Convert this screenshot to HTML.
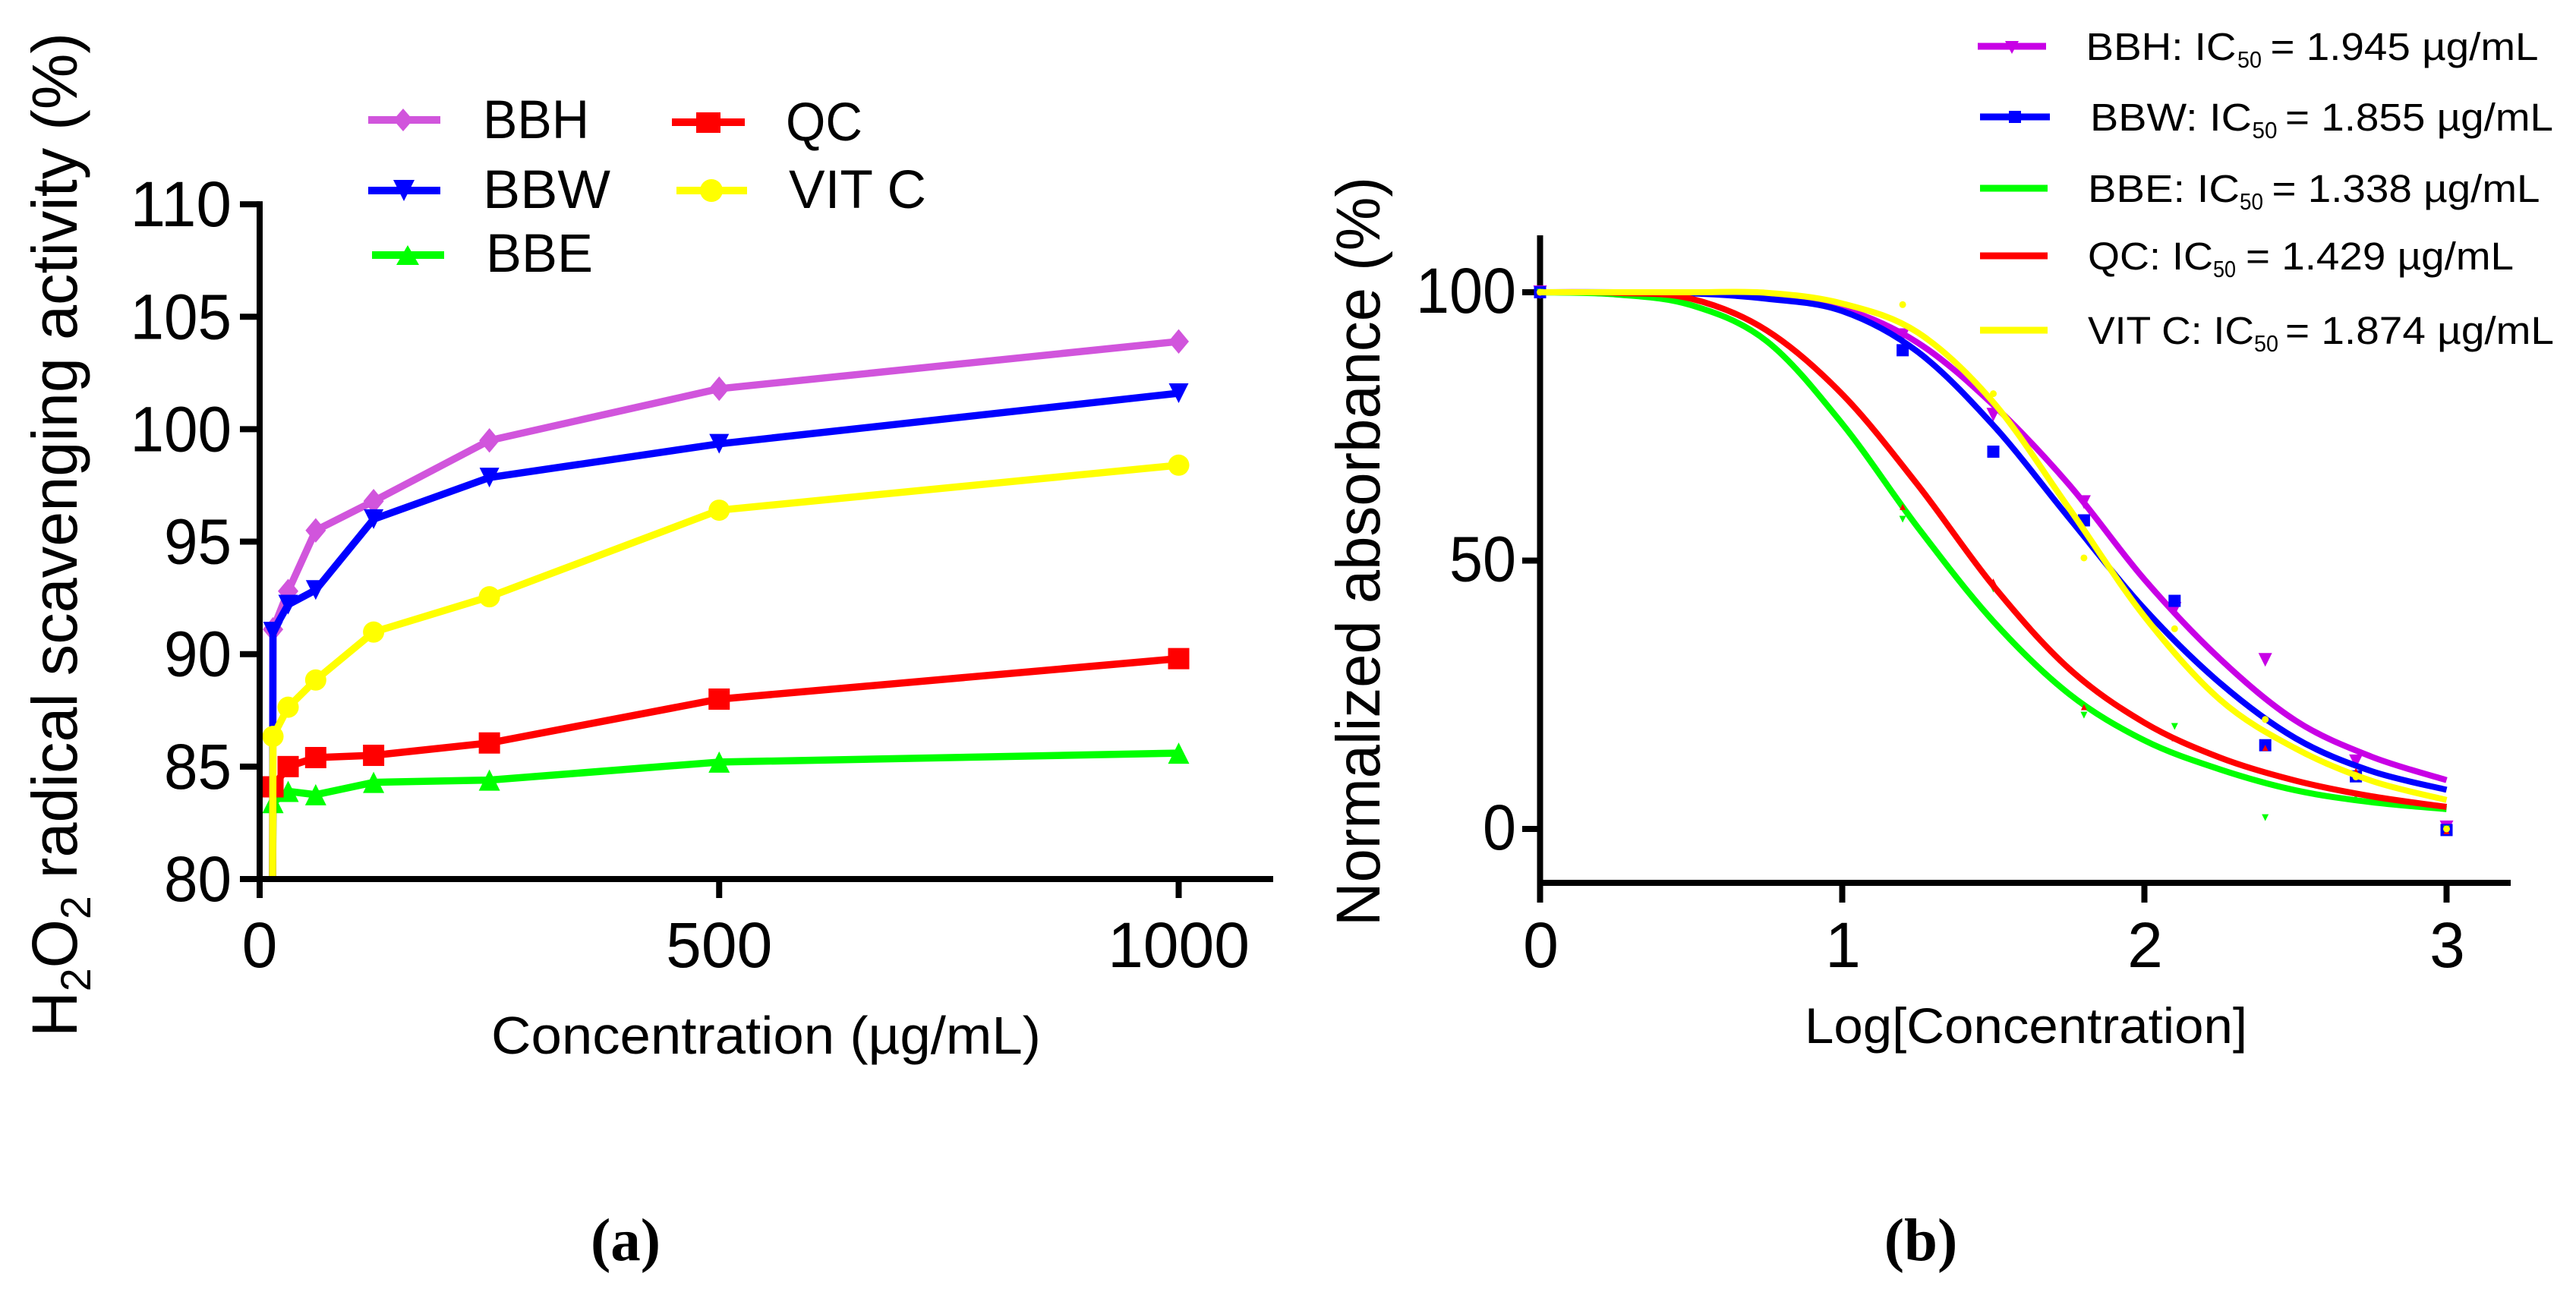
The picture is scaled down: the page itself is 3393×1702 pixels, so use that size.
<!DOCTYPE html>
<html lang="en">
<head>
<meta charset="utf-8">
<title>H2O2 radical scavenging activity and IC50 curves</title>
<style>
html,body{margin:0;padding:0;background:#fff;width:3393px;height:1702px;overflow:hidden;}
svg{display:block;}
text{font-family:"Liberation Sans",Arial,sans-serif;fill:#000;}
.serif{font-family:"Liberation Serif",serif;font-weight:bold;}
</style>
</head>
<body>
<svg id="fig" xmlns="http://www.w3.org/2000/svg" width="3393" height="1702" viewBox="0 0 3393 1702">
  <rect x="0" y="0" width="3393" height="1702" fill="#fff"/>
  <defs>
    <clipPath id="clipA"><rect x="342" y="100" width="1340" height="1061"/></clipPath>
  </defs>
  <g id="panelA"></g>
  <g id="panelB"></g>

  <!-- panel a titles -->
  <text transform="translate(101,1366) rotate(-90)" font-size="84" textLength="1323" lengthAdjust="spacingAndGlyphs">H<tspan font-size="56" dy="18">2</tspan><tspan dy="-18">O</tspan><tspan font-size="56" dy="18">2</tspan><tspan dy="-18"> radical scavenging activity (%)</tspan></text>
  <text x="647" y="1388" font-size="70" textLength="724" lengthAdjust="spacingAndGlyphs">Concentration (µg/mL)</text>
  <text class="serif" x="824" y="1660" font-size="79" text-anchor="middle">(a)</text>

  <!-- panel a legend -->
  <g>
    <g>
      <line x1="485" x2="580" y1="158" y2="158" stroke="#d155dc" stroke-width="10"/>
      <polygon points="531,143 544,158 531,173 518,158" fill="#d155dc"/>
      <text x="636" y="182" font-size="71" textLength="140" lengthAdjust="spacingAndGlyphs">BBH</text>
    </g>
    <g>
      <line x1="485" x2="580" y1="251" y2="251" stroke="#0000ff" stroke-width="10"/>
      <polygon points="518,237 546,237 532,265" fill="#0000ff"/>
      <text x="636" y="274" font-size="71" textLength="168" lengthAdjust="spacingAndGlyphs">BBW</text>
    </g>
    <g>
      <line x1="490" x2="585" y1="336" y2="336" stroke="#00ff00" stroke-width="10"/>
      <polygon points="537,323 552,349 522,349" fill="#00ff00"/>
      <text x="640" y="358" font-size="71" textLength="141" lengthAdjust="spacingAndGlyphs">BBE</text>
    </g>
    <g>
      <line x1="885" x2="981" y1="161" y2="161" stroke="#ff0000" stroke-width="10"/>
      <rect x="917" y="148" width="32" height="27" fill="#ff0000"/>
      <text x="1035" y="185" font-size="71" textLength="101" lengthAdjust="spacingAndGlyphs">QC</text>
    </g>
    <g>
      <line x1="891" x2="984" y1="251" y2="251" stroke="#ffff00" stroke-width="10"/>
      <circle cx="937" cy="251" r="15" fill="#ffff00"/>
      <text x="1039" y="274" font-size="71" textLength="181" lengthAdjust="spacingAndGlyphs">VIT C</text>
    </g>
  </g>

  <!-- panel b titles -->
  <text transform="translate(1817,1220) rotate(-90)" font-size="82" textLength="987" lengthAdjust="spacingAndGlyphs">Normalized absorbance (%)</text>
  <text x="2377" y="1374" font-size="66" textLength="583" lengthAdjust="spacingAndGlyphs">Log[Concentration]</text>
  <text class="serif" x="2530" y="1660" font-size="79" text-anchor="middle">(b)</text>

  <!-- panel b legend -->
  <g font-size="51">
    <g>
      <line x1="2605" x2="2695" y1="61" y2="61" stroke="#c800e6" stroke-width="9"/>
      <polygon points="2641,54 2659,54 2650,71" fill="#c800e6"/>
      <text x="2747.5" y="79" textLength="198" lengthAdjust="spacingAndGlyphs">BBH: IC</text>
      <text x="2947" y="89" font-size="31" textLength="32" lengthAdjust="spacingAndGlyphs">50</text>
      <text x="2990.5" y="79" textLength="353" lengthAdjust="spacingAndGlyphs">= 1.945 µg/mL</text>
    </g>
    <g>
      <line x1="2608" x2="2700" y1="154" y2="154" stroke="#0000ff" stroke-width="9"/>
      <rect x="2646" y="146" width="16" height="16" fill="#0000ff"/>
      <text x="2753" y="172" textLength="213" lengthAdjust="spacingAndGlyphs">BBW: IC</text>
      <text x="2966.5" y="182" font-size="31" textLength="33" lengthAdjust="spacingAndGlyphs">50</text>
      <text x="3010" y="172" textLength="353" lengthAdjust="spacingAndGlyphs">= 1.855 µg/mL</text>
    </g>
    <g>
      <line x1="2608" x2="2697" y1="248" y2="248" stroke="#00ff00" stroke-width="9"/>
      <text x="2750" y="266" textLength="200" lengthAdjust="spacingAndGlyphs">BBE: IC</text>
      <text x="2950" y="276" font-size="31" textLength="31" lengthAdjust="spacingAndGlyphs">50</text>
      <text x="2992.5" y="266" textLength="353" lengthAdjust="spacingAndGlyphs">= 1.338 µg/mL</text>
    </g>
    <g>
      <line x1="2608" x2="2697" y1="337" y2="337" stroke="#ff0000" stroke-width="9"/>
      <text x="2750" y="355" textLength="165" lengthAdjust="spacingAndGlyphs">QC: IC</text>
      <text x="2915" y="365" font-size="31" textLength="30" lengthAdjust="spacingAndGlyphs">50</text>
      <text x="2958" y="355" textLength="353" lengthAdjust="spacingAndGlyphs">= 1.429 µg/mL</text>
    </g>
    <g>
      <line x1="2608" x2="2697" y1="435" y2="435" stroke="#ffff00" stroke-width="9"/>
      <text x="2750" y="453" textLength="219" lengthAdjust="spacingAndGlyphs">VIT C: IC</text>
      <text x="2969" y="463" font-size="31" textLength="32" lengthAdjust="spacingAndGlyphs">50</text>
      <text x="3010" y="453" textLength="354" lengthAdjust="spacingAndGlyphs">= 1.874 µg/mL</text>
    </g>
  </g>
</svg>

<script>
// ---------- Panel (a) data ----------
const concentrations = [14, 14.5, 31, 61, 124, 250, 500, 1000];
const bbhActivity  = [79, 91.1, 92.8, 95.5, 96.8, 99.5, 101.8, 103.9];
const bbwActivity  = [79, 91.0, 92.2, 92.85, 96.0, 97.85, 99.35, 101.6];
const bbeActivity  = [79, 83.4, 83.9, 83.75, 84.3, 84.4, 85.2, 85.6];
const qcActivity   = [79, 84.1, 85.0, 85.4, 85.5, 86.05, 88.0, 89.8];
const vitcActivity = [79, 86.34, 87.64, 88.85, 90.98, 92.55, 96.4, 98.4];
const panelAYTicks = [80, 85, 90, 95, 100, 105, 110];
const panelAXTicks = [0, 500, 1000];

// ---------- Panel (b) data ----------
const curveLogX = [0, 0.25, 0.5, 0.75, 1, 1.25, 1.5, 1.75, 2, 2.25, 2.5, 2.75, 3];
const bbhCurve  = [100, 100, 99.9, 99.2, 97, 90.6, 79, 64.2, 46.5, 31.7, 20.2, 13.5, 9.1];
const bbwCurve  = [100, 100, 99.8, 98.8, 96.5, 88.9, 75.2, 58, 41, 27.2, 16.9, 10.8, 7.3];
const bbeCurve  = [100, 99.6, 97.6, 90.9, 75.5, 56.2, 38.7, 25.2, 16.5, 11.1, 7.2, 5, 3.7];
const qcCurve   = [100, 99.9, 98.8, 92.9, 81, 64.1, 45.3, 29.9, 19.8, 13.3, 9, 6.1, 4.1];
const vitcCurve = [100, 100, 100, 99.9, 97.9, 92.5, 79.5, 59.8, 39.6, 24.1, 15, 9, 5.4];

const pointLogX = [0, 1.2, 1.5, 1.8, 2.1, 2.4, 2.7, 3];
const bbhPoints  = [100, 92, 77.2, 60.9, 41, 31.5, 12.6, 0.3];
const bbwPoints  = [100, 89.2, 70.3, 57.5, 42.5, 15.6, 9.8, -0.2];
const bbePoints  = [100, 57.7, 44.7, 21.2, 19.1, 2.1, 6.1, 0];
const qcPoints   = [100, 60, 46.1, 22.7, 16.9, 15.1, 10.8, -0.4];
const vitcPoints = [100, 97.7, 81.1, 50.5, 37.3, 20.4, 9.7, 0];
const panelBYTicks = [0, 50, 100];
const panelBXTicks = [0, 1, 2, 3];

// ---------- Axis functions ----------
const xA = v => 342 + v * 1.2105;
const yA = v => 1158 - (v - 80) * 29.63;
const xB = v => 2028.5 + v * 398;
const yB = v => 1092 - v * 7.07;

const NS = 'http://www.w3.org/2000/svg';
function mk(parent, tag, attrs, txt) {
  const n = document.createElementNS(NS, tag);
  for (const k in attrs) n.setAttribute(k, attrs[k]);
  if (txt !== undefined) n.textContent = txt;
  parent.appendChild(n);
  return n;
}
function shapeFor(parent, kind, cx, cy, s, color) {
  const h = s / 2;
  if (kind === 'square') return mk(parent, 'rect', {x: cx - h, y: cy - h, width: s, height: s, fill: color});
  if (kind === 'circle') return mk(parent, 'circle', {cx: cx, cy: cy, r: h, fill: color});
  let pts;
  if (kind === 'diamond') pts = [[cx, cy - h * 1.2], [cx + h, cy], [cx, cy + h * 1.2], [cx - h, cy]];
  if (kind === 'down') pts = [[cx - h, cy - h], [cx + h, cy - h], [cx, cy + h]];
  if (kind === 'up') pts = [[cx, cy - h], [cx + h, cy + h], [cx - h, cy + h]];
  return mk(parent, 'polygon', {points: pts.map(p => p.join(',')).join(' '), fill: color});
}
function smoothPath(pts) {
  let d = 'M' + pts[0][0] + ',' + pts[0][1];
  for (let i = 0; i < pts.length - 1; i++) {
    const p0 = pts[Math.max(i - 1, 0)], p1 = pts[i], p2 = pts[i + 1], p3 = pts[Math.min(i + 2, pts.length - 1)];
    const c1 = [p1[0] + (p2[0] - p0[0]) / 6, p1[1] + (p2[1] - p0[1]) / 6];
    const c2 = [p2[0] - (p3[0] - p1[0]) / 6, p2[1] - (p3[1] - p1[1]) / 6];
    d += 'C' + c1.join(',') + ' ' + c2.join(',') + ' ' + p2.join(',');
  }
  return d;
}

// ---------- Panel (a) ----------
const gA = document.getElementById('panelA');
const seriesA = [
  {name: 'bbh', vals: bbhActivity, color: '#d155dc', marker: 'diamond', size: 27},
  {name: 'bbe', vals: bbeActivity, color: '#00ff00', marker: 'up', size: 28},
  {name: 'qc', vals: qcActivity, color: '#ff0000', marker: 'square', size: 28},
  {name: 'bbw', vals: bbwActivity, color: '#0000ff', marker: 'down', size: 26},
  {name: 'vit-c', vals: vitcActivity, color: '#ffff00', marker: 'circle', size: 28}
];
seriesA.forEach(s => {
  const line = mk(gA, 'polyline', {
    points: s.vals.map((v, i) => xA(concentrations[i]) + ',' + yA(v)).join(' '),
    fill: 'none', stroke: s.color, 'stroke-width': 9.5, 'stroke-linejoin': 'round', 'clip-path': 'url(#clipA)'
  });
  
  
  s.vals.forEach((v, i) => {
    if (v < 80) return;
    const m = shapeFor(gA, s.marker, xA(concentrations[i]), yA(v), s.size, s.color);
    
    
  });
});
const axA1 = mk(gA, 'line', {x1: xA(0), x2: xA(0), y1: yA(110) - 4, y2: 1183, stroke: '#000', 'stroke-width': 8});


const axA2 = mk(gA, 'line', {x1: 316, x2: 1677, y1: yA(80), y2: yA(80), stroke: '#000', 'stroke-width': 8});


panelAYTicks.forEach(t => {
  const tick = mk(gA, 'line', {x1: 316, x2: xA(0), y1: yA(t), y2: yA(t), stroke: '#000', 'stroke-width': 8});
  
  
  const lab = mk(gA, 'text', {x: 305, y: yA(t) + 29, 'font-size': 84, 'text-anchor': 'end', textLength: String(t).length * 44.5, lengthAdjust: 'spacingAndGlyphs'}, String(t));
  
  
});
panelAXTicks.forEach(t => {
  const tick = mk(gA, 'line', {x1: xA(t), x2: xA(t), y1: yA(80), y2: 1183, stroke: '#000', 'stroke-width': 8});
  
  
  const lab = mk(gA, 'text', {x: xA(t), y: 1274, 'font-size': 84, 'text-anchor': 'middle'}, String(t));
  
  
});

// ---------- Panel (b) ----------
const gB = document.getElementById('panelB');
const seriesB = [
  {name: 'bbh', curve: bbhCurve, pts: bbhPoints, color: '#c800e6', marker: 'down', size: 18},
  {name: 'bbw', curve: bbwCurve, pts: bbwPoints, color: '#0000ff', marker: 'square', size: 16},
  {name: 'bbe', curve: bbeCurve, pts: bbePoints, color: '#00ff00', marker: 'down', size: 9},
  {name: 'qc', curve: qcCurve, pts: qcPoints, color: '#ff0000', marker: 'up', size: 8},
  {name: 'vit-c', curve: vitcCurve, pts: vitcPoints, color: '#ffff00', marker: 'circle', size: 9}
];
const axB1 = mk(gB, 'line', {x1: xB(0), x2: xB(0), y1: 310, y2: 1189, stroke: '#000', 'stroke-width': 8});


const axB2 = mk(gB, 'line', {x1: xB(0), x2: 3307, y1: 1163, y2: 1163, stroke: '#000', 'stroke-width': 8});


panelBYTicks.forEach(t => {
  const tick = mk(gB, 'line', {x1: 2005, x2: xB(0), y1: yB(t), y2: yB(t), stroke: '#000', 'stroke-width': 8});
  
  
  const lab = mk(gB, 'text', {x: 1997, y: yB(t) + 27, 'font-size': 84, 'text-anchor': 'end', textLength: String(t).length * 44, lengthAdjust: 'spacingAndGlyphs'}, String(t));
  
  
});
panelBXTicks.forEach(t => {
  const tick = mk(gB, 'line', {x1: xB(t), x2: xB(t), y1: 1163, y2: 1189, stroke: '#000', 'stroke-width': 8});
  
  
  const lab = mk(gB, 'text', {x: xB(t) + 1, y: 1274, 'font-size': 84, 'text-anchor': 'middle'}, String(t));
  
  
});
seriesB.forEach(s => {
  const curve = mk(gB, 'path', {
    d: smoothPath(s.curve.map((v, i) => [xB(curveLogX[i]), yB(v)])),
    fill: 'none', stroke: s.color, 'stroke-width': 8
  });
  
  
  s.pts.forEach((v, i) => {
    const m = shapeFor(gB, s.marker, xB(pointLogX[i]), yB(v), s.size, s.color);
    
    
  });
});
</script>
</body>
</html>
